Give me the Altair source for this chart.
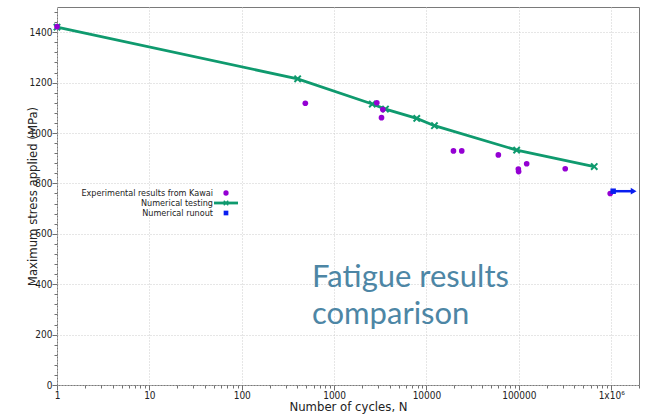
import altair as alt
import pandas as pd

# ---------------- data ----------------
num_cycles = [1, 403, 2590, 3600, 7850, 12200, 94700, 655000]
num_stress = [1420, 1215, 1115, 1095, 1058, 1029, 932, 867]

exp_cycles = [1, 488, 2900, 3370, 3260, 19600, 24100, 60000, 98800, 99500, 121600, 318000, 976000]
exp_stress = [1422, 1118, 1120, 1093, 1061, 929, 929, 913, 857, 847, 878, 858, 760]

runout_cycles = [1.05e6]
runout_end = [1.75e6]
runout_stress = [769]

x_tick_values = [1, 10, 100, 1000, 10000, 100000, 1000000]
x_tick_labels = ["1", "10", "100", "1000", "10000", "100000", "1x10⁶"]
y_tick_values = [0, 200, 400, 600, 800, 1000, 1200, 1400]
series_names = ["Experimental results from Kawai", "Numerical testing", "Numerical runout"]
title_lines = ["Fatigue results", "comparison"]

# ---------------- styling ----------------
W, H = 582, 378
GREEN = "#0f9a6e"
PURPLE = "#9400d3"
BLUE = "#0a1ef0"
TITLE_C = "#4d86a5"
AX_FONT = "Liberation Sans Narrow, DejaVu Sans Condensed, Liberation Sans, sans-serif"
TICK_C = "#707070"

x_all_ticks = [m * 10 ** k for k in range(7) for m in range(1, 10) if m * 10 ** k <= 2e6]
y_all_ticks = list(range(0, 1501, 40))
major_x = "abs(log(datum.value)/LN10 - round(log(datum.value)/LN10)) < 0.001"
major_y = "datum.value % 200 == 0"

label_expr = "''"
for v, l in reversed(list(zip(x_tick_values, x_tick_labels))):
    label_expr = f"datum.value == {v} ? '{l}' : ({label_expr})"
y_label_expr = f"{major_y} ? format(datum.value, 'd') : ''"

x_scale = alt.Scale(type="log", domain=[1, 2e6], nice=False)
y_scale = alt.Scale(domain=[0, 1500], nice=False)

df_num = pd.DataFrame({"cycles": num_cycles, "stress": num_stress})
df_exp = pd.DataFrame({"cycles": exp_cycles, "stress": exp_stress})
df_run = pd.DataFrame({"cycles": runout_cycles, "end": runout_end, "stress": runout_stress})

# main axes: labels on majors, long ticks on majors, short ticks on minors, grid on majors
ax_x_main = alt.Axis(orient="bottom", values=x_all_ticks, labelExpr=label_expr,
                     grid=True, gridColor="#cccccc", gridDash=[1, 2],
                     gridOpacity={"condition": {"test": major_x, "value": 1}, "value": 0},
                     ticks=True, tickColor=TICK_C, tickWidth=1,
                     tickSize={"condition": {"test": major_x, "value": 5}, "value": 3},
                     domain=False,
                     labelFont=AX_FONT, labelFontSize=10, labelColor="#222222", labelPadding=0,
                     labelFlush=False, labelOverlap=False,
                     title="Number of cycles, N", titleFont=AX_FONT, titleFontSize=13,
                     titleFontWeight="normal", titleColor="#222222", titleY=25,
                     titleBaseline="alphabetic")
ax_y_main = alt.Axis(orient="left", values=y_all_ticks, labelExpr=y_label_expr,
                     grid=True, gridColor="#cccccc", gridDash=[1, 2],
                     gridOpacity={"condition": {"test": major_y, "value": 1}, "value": 0},
                     ticks=True, tickColor=TICK_C, tickWidth=1,
                     tickSize={"condition": {"test": major_y, "value": 5}, "value": 3},
                     domain=False, labelOverlap=False,
                     labelFont=AX_FONT, labelFontSize=10, labelColor="#222222", labelPadding=0,
                     title="Maximum stress applied (MPa)", titleFont=AX_FONT, titleFontSize=13,
                     titleFontWeight="normal", titleColor="#222222", titleX=-25, titleY=H / 2,
                     titleAngle=270, titleAlign="center", titleBaseline="middle")

def X(field):
    return alt.X(field, scale=x_scale, axis=ax_x_main)

def Y(field):
    return alt.Y(field, scale=y_scale, axis=ax_y_main)

line = alt.Chart(df_num).mark_line(color=GREEN, strokeWidth=2.8).encode(
    x=X("cycles:Q"), y=Y("stress:Q"))

markers = alt.Chart(df_num).mark_point(shape="M-1,-1L1,1M-1,1L1,-1", color=GREEN,
                                       strokeWidth=2, size=40, filled=False, opacity=1).encode(
    x=X("cycles:Q"), y=Y("stress:Q"))

exp = alt.Chart(df_exp).mark_circle(color=PURPLE, size=32, opacity=1).encode(
    x=X("cycles:Q"), y=Y("stress:Q"))

run_rule = alt.Chart(df_run).mark_rule(color=BLUE, strokeWidth=2.5).encode(
    x=X("cycles:Q"), x2="end:Q", y=Y("stress:Q"))
run_head = alt.Chart(df_run).mark_point(shape="triangle-right", color=BLUE, filled=True,
                                        size=45, opacity=1).encode(
    x=X("end:Q"), y=Y("stress:Q"))
run_sq = alt.Chart(df_run).mark_square(color=BLUE, size=30, opacity=1).encode(
    x=X("cycles:Q"), y=Y("stress:Q"))

# legend
leg_df = pd.DataFrame({"name": series_names})
LX_TEXT, LX_SYM = 156, 169
LY = [186, 196, 206]
legend_layers = []
for i, name in enumerate(series_names):
    legend_layers.append(
        alt.Chart(leg_df).transform_filter(alt.datum.name == name).mark_text(
            align="right", baseline="middle", font=AX_FONT, fontSize=9, color="#222222"
        ).encode(text="name:N", x=alt.value(LX_TEXT), y=alt.value(LY[i]))
    )
legend_layers.append(alt.Chart(leg_df).transform_filter(alt.datum.name == series_names[0])
                     .mark_circle(color=PURPLE, size=28, opacity=1)
                     .encode(x=alt.value(LX_SYM), y=alt.value(LY[0])))
legend_layers.append(alt.Chart(leg_df).transform_filter(alt.datum.name == series_names[1])
                     .mark_rule(color=GREEN, strokeWidth=2.8)
                     .encode(x=alt.value(LX_SYM - 12), x2=alt.value(LX_SYM + 12), y=alt.value(LY[1])))
legend_layers.append(alt.Chart(leg_df).transform_filter(alt.datum.name == series_names[1])
                     .mark_point(shape="M-1,-1L1,1M-1,1L1,-1", color=GREEN, strokeWidth=1.5,
                                 size=20, filled=False, opacity=1)
                     .encode(x=alt.value(LX_SYM), y=alt.value(LY[1])))
legend_layers.append(alt.Chart(leg_df).transform_filter(alt.datum.name == series_names[2])
                     .mark_square(color=BLUE, size=22, opacity=1)
                     .encode(x=alt.value(LX_SYM), y=alt.value(LY[2])))

# big overlay title text
title_df = pd.DataFrame({"t": title_lines})
title_layers = []
for i, t in enumerate(title_lines):
    title_layers.append(
        alt.Chart(title_df).transform_filter(alt.datum.t == t).mark_text(
            align="left", baseline="alphabetic", font="Lato", fontSize=31, color=TITLE_C
        ).encode(text="t:N", x=alt.value(255), y=alt.value([280, 317][i]))
    )

chart = alt.layer(line, markers, exp, run_rule, run_head, run_sq,
                  *legend_layers, *title_layers).properties(
    width=W, height=H,
    autosize=alt.AutoSizeParams(type="none"),
    padding={"left": 57, "top": 7, "right": 10, "bottom": 32},
    background="white",
).configure_view(stroke="#7a7a7a", strokeWidth=1)

chart.save("out.html", embed_options={"renderer": "svg", "actions": False})
